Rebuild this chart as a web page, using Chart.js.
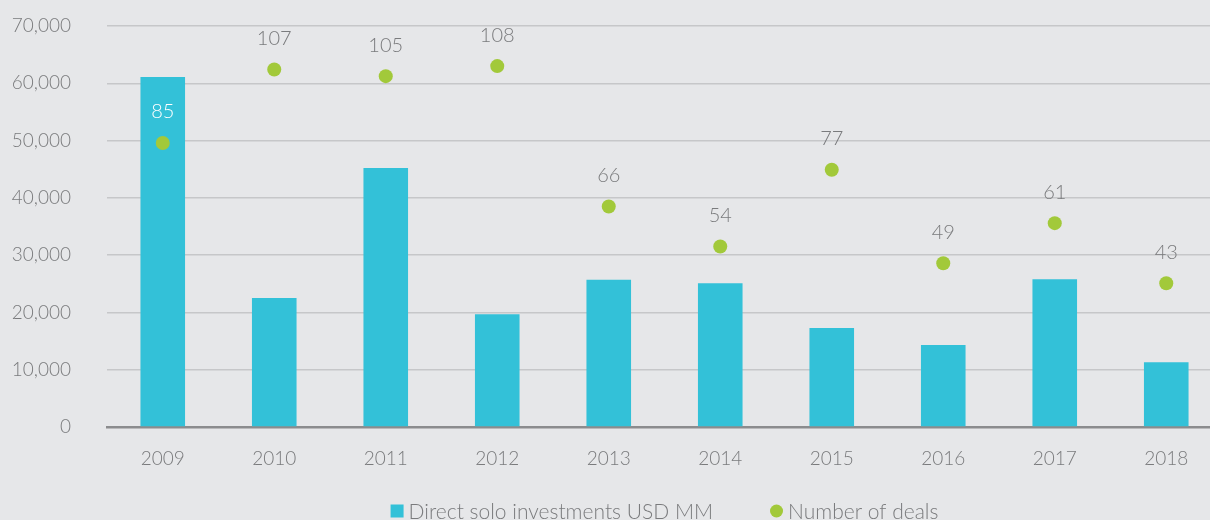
<!DOCTYPE html>
<html>
<head>
<meta charset="utf-8">
<script src="https://cdn.jsdelivr.net/npm/chart.js@4.4.1/dist/chart.umd.min.js"></script>
<style>
  html, body { margin: 0; padding: 0; background: #e6e7e9; overflow: hidden; }
  #wrap { width: 1229px; height: 520px; }
</style>
</head>
<body>
<div id="wrap"><canvas id="dealsChart" width="1229" height="520"></canvas></div>
<script>
// Yearly figures
const years = ['2009', '2010', '2011', '2012', '2013', '2014', '2015', '2016', '2017', '2018'];
const investments = [61100, 22500, 45200, 19700, 25700, 25100, 17300, 14300, 25800, 11300];
const deals = [85, 107, 105, 108, 66, 54, 77, 49, 61, 43];
const yTicks = [0, 10000, 20000, 30000, 40000, 50000, 60000, 70000];

const FONT = "'Lato', 'Open Sans', sans-serif";
const TEXT_GREY = '#7a7b7d';
const CYAN = '#33c1d8';
const GREEN = '#a2c93a';

// Writes the deal count above each green dot; white when it sits on a bar
const dealLabels = {
    id: 'dealLabels',
    afterDatasetsDraw(chart) {
        const ctx = chart.ctx;
        const bars = chart.getDatasetMeta(0).data;
        const dots = chart.getDatasetMeta(1).data;
        ctx.save();
        ctx.font = "300 20px " + FONT;
        ctx.textAlign = 'center';
        ctx.textBaseline = 'middle';
        dots.forEach(function(dot, i) {
            const y = dot.y - 31;
            ctx.fillStyle = (y > bars[i].y) ? '#ffffff' : TEXT_GREY;
            ctx.fillText(String(deals[i]), dot.x, y);
        });
        ctx.restore();
    }
};

// Bottom legend, centred under the plot area
const bottomLegend = {
    id: 'bottomLegend',
    afterDraw(chart) {
        const ctx = chart.ctx;
        const area = chart.chartArea;
        const box = 13, textGap = 5, itemGap = 57;
        const y = 511;
        ctx.save();
        ctx.font = "300 21px " + FONT;
        ctx.textBaseline = 'middle';
        const items = chart.data.datasets.map(function(ds) {
            return { ds: ds, w: box + textGap + ctx.measureText(ds.label).width };
        });
        const total = items.reduce(function(s, it) { return s + it.w; }, 0) + itemGap * (items.length - 1);
        let x = (area.left + area.right) / 2 - total / 2;
        items.forEach(function(it) {
            ctx.fillStyle = it.ds.backgroundColor;
            if (it.ds.type === 'bar') {
                ctx.fillRect(x, y - box / 2, box, box);
            } else {
                ctx.beginPath();
                ctx.arc(x + box / 2, y, box / 2, 0, Math.PI * 2);
                ctx.fill();
            }
            ctx.fillStyle = TEXT_GREY;
            ctx.fillText(it.ds.label, x + box + textGap, y + 1);
            x += it.w + itemGap;
        });
        ctx.restore();
    }
};

const ctx = document.getElementById('dealsChart');
new Chart(ctx, {
    data: {
        labels: years,
        datasets: [{
            type: 'bar',
            label: 'Direct solo investments USD MM',
            data: investments,
            backgroundColor: CYAN,
            borderWidth: 0,
            barPercentage: 0.4,
            categoryPercentage: 1.0,
            yAxisID: 'y',
            order: 2
        }, {
            type: 'line',
            label: 'Number of deals',
            data: deals,
            showLine: false,
            backgroundColor: GREEN,
            borderColor: GREEN,
            pointRadius: 7,
            pointHoverRadius: 7,
            pointBorderWidth: 0,
            yAxisID: 'y2',
            order: 1
        }]
    },
    options: {
        responsive: false,
        animation: false,
        layout: { padding: { top: 26, right: 0, left: 0, bottom: 43 } },
        plugins: {
            tooltip: { enabled: false },
            legend: { display: false }
        },
        scales: {
            x: {
                grid: { display: false, drawTicks: false },
                border: { display: true, color: '#8b8c8e', width: 2.5 },
                ticks: {
                    color: TEXT_GREY,
                    padding: 20,
                    font: { family: FONT, size: 19, weight: 300 }
                },
                afterFit: function(scale) {
                    scale.height = 50;
                    scale.paddingLeft = 0;
                    scale.paddingRight = 0;
                }
            },
            y: {
                min: 0,
                max: 70000,
                afterBuildTicks: function(scale) {
                    scale.ticks = yTicks.map(function(v) { return { value: v }; });
                },
                grid: {
                    color: '#c6c7c9',
                    lineWidth: 1.5,
                    drawTicks: false
                },
                border: { display: false },
                ticks: {
                    color: TEXT_GREY,
                    padding: 36,
                    font: { family: FONT, size: 19, weight: 300 },
                    callback: function(v) { return v.toLocaleString('en-US'); }
                },
                afterFit: function(scale) {
                    scale.width = 107;
                    scale.paddingTop = 0;
                    scale.paddingBottom = 0;
                }
            },
            y2: {
                display: false,
                min: 0,
                max: 120
            }
        }
    },
    plugins: [dealLabels, bottomLegend]
});
</script>
</body>
</html>
